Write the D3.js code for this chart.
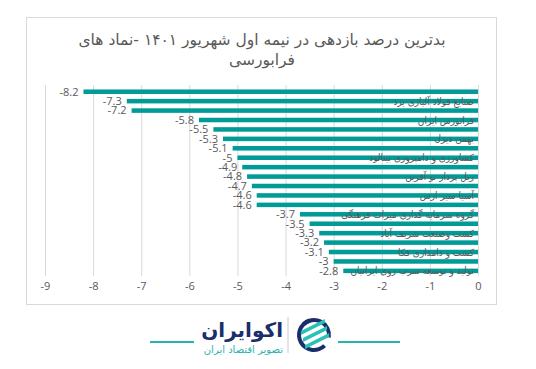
<!DOCTYPE html>
<html>
<head>
<meta charset="utf-8">
<script src="https://cdn.jsdelivr.net/npm/d3@7"></script>
<style>
  body { margin: 0; background: #fff; }
  svg { display: block; }
</style>
</head>
<body>
<div class="chart"></div>
<script>
// data, top to bottom (only every other category name is shown on the chart)
const categories = [
  "", "صنایع فولاد آلیاژی یزد", "", "فرابورس ایران", "", "بهمن دیزل", "",
  "کشاورزی و دامپروری بینالود", "", "ریل پرداز نو آفرین", "", "آسیا سیر ارس", "",
  "گروه سرمایه گذاری میراث فرهنگی", "", "کشت وصنعت شریف آباد", "", "کشت و دامداری فکا", "",
  "تولید و توسعه سرب روی ایرانیان"
]
const values = [-8.2, -7.3, -7.2, -5.8, -5.5, -5.3, -5.1, -5, -4.9, -4.8, -4.7, -4.6, -4.6, -3.7, -3.5, -3.3, -3.2, -3.1, -3, -2.8]
const xTicks = [-9, -8, -7, -6, -5, -4, -3, -2, -1, 0]
const title = ["بدترین درصد بازدهی در نیمه اول شهریور ۱۴۰۱ -نماد های", "فرابورسی"]

let width = 536
let height = 369
let margin = {top: 87, right: 58, bottom: 95, left: 45}

const svg = d3.select('.chart').append("svg")
  .attr("width", width)
  .attr("height", height)

// chart frame
svg.append("rect")
  .attr("x", 26.5).attr("y", 17.5)
  .attr("width", 470).attr("height", 287)
  .attr("fill", "none")
  .attr("stroke", "#d9d9d9")

let x = d3.scaleLinear()
  .domain([-9, 0])
  .range([margin.left, width - margin.right])

let y = d3.scaleBand()
  .domain(d3.range(values.length))
  .range([margin.top, height - margin.bottom + 1.6])
  .paddingInner(0.52)
  .paddingOuter(0.26)

// title
svg.append("g")
    .attr("fill", "#595959")
    .attr("font-family", "DejaVu Sans, sans-serif")
    .attr("font-size", 15.5)
    .attr("text-anchor", "middle")
  .selectAll("text")
  .data(title)
  .join("text")
    .attr("x", 262)
    .attr("y", (d, i) => 45 + i * 20)
    .attr("direction", "rtl")
    .text(d => d)

// gridlines + tick labels
let xAxis = g => g
  .attr("transform", `translate(0,${margin.top - 2})`)
  .call(d3.axisBottom(x).tickValues(xTicks).tickSize(191).tickFormat(d => d))
  .call(g => g.select(".domain").remove())
  .call(g => g.selectAll(".tick line").attr("stroke", "#d9d9d9"))
  .call(g => g.selectAll(".tick text")
    .attr("fill", "#595959")
    .attr("font-family", "Open Sans, sans-serif")
    .attr("font-size", 11)
    .attr("y", 197))

svg.append("g").call(xAxis)

// bars
svg.append("g")
    .attr("fill", "#009a97")
  .selectAll("rect")
  .data(values)
  .join("rect")
    .attr("x", d => x(d))
    .attr("y", (d, i) => y(i))
    .attr("width", d => x(0) - x(d))
    .attr("height", y.bandwidth())

// value labels
svg.append("g")
    .attr("fill", "#595959")
    .attr("text-anchor", "end")
    .attr("font-family", "Open Sans, sans-serif")
    .attr("font-size", 11)
  .selectAll("text")
  .data(values)
  .join("text")
    .attr("x", d => x(d) - 5)
    .attr("y", (d, i) => y(i) + y.bandwidth() / 2)
    .attr("dy", "0.35em")
    .text(d => d)

// category labels
svg.append("g")
    .attr("fill", "#595959")
    .attr("font-family", "DejaVu Sans Condensed, DejaVu Sans, sans-serif")
    .attr("font-size", 10)
    .attr("text-anchor", "start")
  .selectAll("text")
  .data(categories)
  .join("text")
    .attr("direction", "rtl")
    .attr("x", x(0) - 4)
    .attr("y", (d, i) => y(i) + y.bandwidth() / 2)
    .attr("dy", "0.35em")
    .text(d => d)

// logo
const logo = svg.append("g")
logo.append("line").attr("x1", 150).attr("x2", 194).attr("y1", 342).attr("y2", 342)
  .attr("stroke", "#26b3ad").attr("stroke-width", 2)
logo.append("line").attr("x1", 338).attr("x2", 400).attr("y1", 342).attr("y2", 342)
  .attr("stroke", "#26b3ad").attr("stroke-width", 2)
logo.append("line").attr("x1", 288).attr("x2", 288).attr("y1", 317).attr("y2", 353)
  .attr("stroke", "#c8c8c8")
logo.append("text")
  .attr("x", 283).attr("y", 337)
  .attr("direction", "rtl").attr("text-anchor", "start")
  .attr("font-family", "DejaVu Sans, sans-serif").attr("font-weight", "bold")
  .attr("font-size", 20).attr("fill", "#1c2d6b")
  .text("اکوایران")
logo.append("text")
  .attr("x", 283).attr("y", 353)
  .attr("direction", "rtl").attr("text-anchor", "start")
  .attr("font-family", "DejaVu Sans, sans-serif")
  .attr("font-size", 10).attr("fill", "#26b3ad")
  .text("تصویر اقتصاد ایران")
// icon
const ic = logo.append("g").attr("transform", "translate(314,335)")
ic.append("path")
  .attr("d", d3.arc()({innerRadius: 13, outerRadius: 17, startAngle: Math.PI * 0.75, endAngle: Math.PI * 1.9}))
  .attr("fill", "#1c2d6b")
ic.append("path")
  .attr("d", d3.arc()({innerRadius: 13, outerRadius: 17, startAngle: -Math.PI * 0.25, endAngle: Math.PI * 0.55}))
  .attr("fill", "#1c2d6b")
;[-7, 0, 7].forEach(o => {
  ic.append("path")
    .attr("d", `M${-11 + o * 0.3},${o + 3} L${13 + o * 0.3},${o - 9} L${13 + o * 0.3},${o - 5} L${-11 + o * 0.3},${o + 7} Z`)
    .attr("fill", "#2bc0b5")
})
</script>
</body>
</html>
